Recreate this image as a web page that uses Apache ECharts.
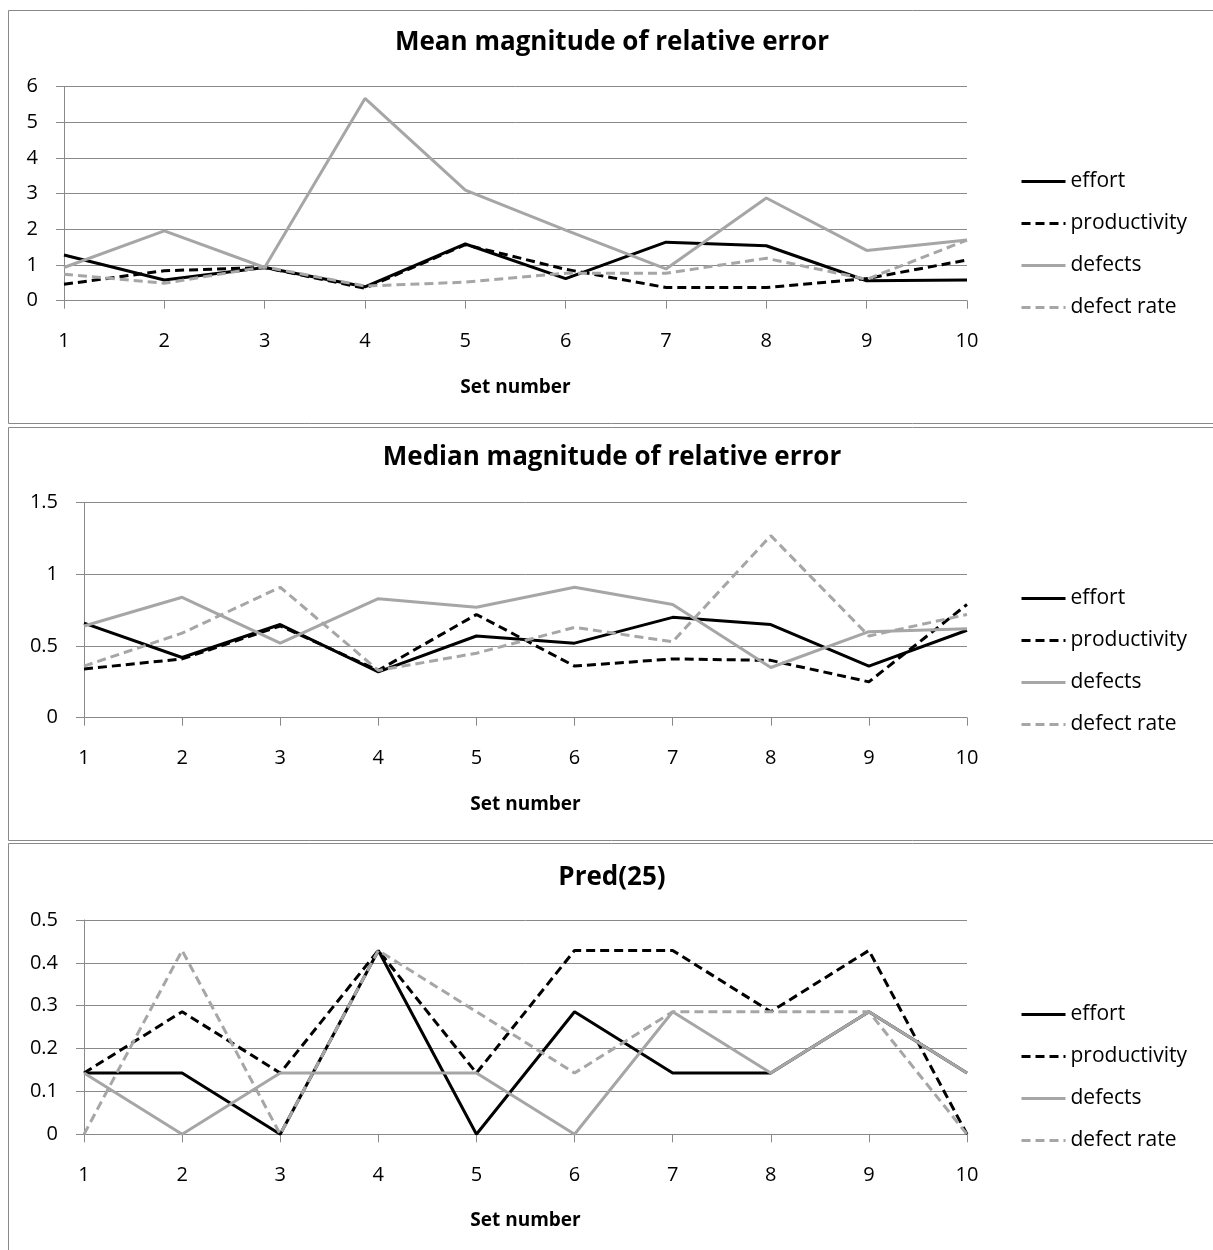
<!DOCTYPE html>
<html><head><meta charset="utf-8">
<script src="https://cdn.jsdelivr.net/npm/echarts@6/dist/echarts.min.js"></script>
<style>html,body{margin:0;padding:0;background:#fff}#c{width:1213px;height:1250px}</style>
</head><body><div id="c"></div>
<script>
const setNumbers = ['1','2','3','4','5','6','7','8','9','10'];
const seriesNames = ['effort','productivity','defects','defect rate'];

const mmreEffort       = [1.28,0.58,0.93,0.39,1.59,0.62,1.64,1.54,0.56,0.58];
const mmreProductivity = [0.46,0.84,0.93,0.35,1.57,0.88,0.37,0.37,0.62,1.14];
const mmreDefects      = [0.93,1.96,0.93,5.67,3.10,1.98,0.89,2.88,1.41,1.70];
const mmreDefectRate   = [0.74,0.49,0.95,0.41,0.52,0.77,0.77,1.19,0.60,1.70];

const mdmreEffort       = [0.66,0.42,0.65,0.32,0.57,0.52,0.70,0.65,0.36,0.61];
const mdmreProductivity = [0.34,0.41,0.64,0.33,0.72,0.36,0.41,0.40,0.25,0.79];
const mdmreDefects      = [0.64,0.84,0.52,0.83,0.77,0.91,0.79,0.35,0.60,0.62];
const mdmreDefectRate   = [0.36,0.59,0.91,0.33,0.45,0.63,0.53,1.27,0.57,0.72];

const predEffort       = [0.143,0.143,0,0.429,0,0.286,0.143,0.143,0.286,0.143];
const predProductivity = [0.143,0.286,0.143,0.429,0.143,0.429,0.429,0.286,0.429,0];
const predDefects      = [0.143,0,0.143,0.143,0.143,0,0.286,0.143,0.286,0.143];
const predDefectRate   = [0,0.429,0,0.429,0.286,0.143,0.286,0.286,0.286,0];

const titles = ['Mean magnitude of relative error','Median magnitude of relative error','Pred(25)'];
const yMax = [6, 1.5, 0.5];
const yInterval = [1, 0.5, 0.1];
const xAxisName = 'Set number';

const FONT = '"Open Sans"';
const GRIDC = '#898989';
const GRAY = '#a6a6a6';
const panels = [
  {top:86.7, bottom:300.7, left:64, right:967, title:43, legendTop:171, border:[8.5,10.5,423.5]},
  {top:502.7, bottom:717.7, left:84, right:967, title:458, legendTop:588, border:[8.5,427.5,840.5]},
  {top:920, bottom:1134.3, left:84, right:967, title:878, legendTop:1004, border:[8.5,843.5,1260]}
];
const data = [
  [mmreEffort,mmreProductivity,mmreDefects,mmreDefectRate],
  [mdmreEffort,mdmreProductivity,mdmreDefects,mdmreDefectRate],
  [predEffort,predProductivity,predDefects,predDefectRate]
];
const styles = [
  {color:'#000000', type:'solid'},
  {color:'#000000', type:[9,5]},
  {color:GRAY, type:'solid'},
  {color:GRAY, type:[9,5]}
];

const grid=[], xAxis=[], yAxis=[], series=[], legend=[], graphic=[];
panels.forEach((p,i)=>{
  grid.push({left:p.left, width:p.right-p.left, top:p.top, height:p.bottom-p.top, containLabel:false});
  xAxis.push({type:'category', gridIndex:i, data:setNumbers, boundaryGap:false,
    axisLine:{lineStyle:{color:GRIDC,width:1}},
    axisTick:{show:true,length:8,lineStyle:{color:GRIDC}},
    axisLabel:{color:'#000',fontFamily:FONT,fontSize:20,margin:31},
    name:xAxisName, nameLocation:'middle', nameGap:77,
    nameTextStyle:{color:'#000',fontFamily:FONT,fontSize:19,fontWeight:'bold'}
  });
  yAxis.push({type:'value', gridIndex:i, min:0, max:yMax[i], interval:yInterval[i],
    axisLine:{show:true,lineStyle:{color:GRIDC,width:1}},
    axisTick:{show:true,length:8,lineStyle:{color:GRIDC}},
    axisLabel:{color:'#000',fontFamily:FONT,fontSize:20,margin:26},
    splitLine:{show:true,lineStyle:{color:GRIDC,width:1}}
  });
  seriesNames.forEach((n,k)=>{
    series.push({type:'line', name:n, xAxisIndex:i, yAxisIndex:i, data:data[i][k],
      symbol:'none', showSymbol:false, smooth:false, animation:false,
      lineStyle:{color:styles[k].color, width:3, type:styles[k].type},
      itemStyle:{color:styles[k].color}});
  });
  legend.push({orient:'vertical', left:1020, top:p.legendTop, data:seriesNames, padding:0,
    itemWidth:44, itemHeight:14, itemGap:21, selectedMode:false,
    itemStyle:{opacity:0},
    lineStyle:{width:3},
    textStyle:{color:'#000',fontFamily:FONT,fontSize:21,lineHeight:20}});
  graphic.push({type:'rect', shape:{x:p.border[0], y:p.border[1], width:1220, height:p.border[2]-p.border[1]},
    style:{fill:'none', stroke:GRIDC, lineWidth:1}, silent:true});
  graphic.push({type:'text', x:612, y:p.title, style:{text:titles[i], fill:'#000',
    font:'bold 26px '+FONT, textAlign:'center', textVerticalAlign:'middle'}});
});

const chart = echarts.init(document.getElementById('c'), null, {renderer:'canvas'});
chart.setOption({animation:false, backgroundColor:'#fff', grid, xAxis, yAxis, series, legend, graphic});
</script></body></html>
